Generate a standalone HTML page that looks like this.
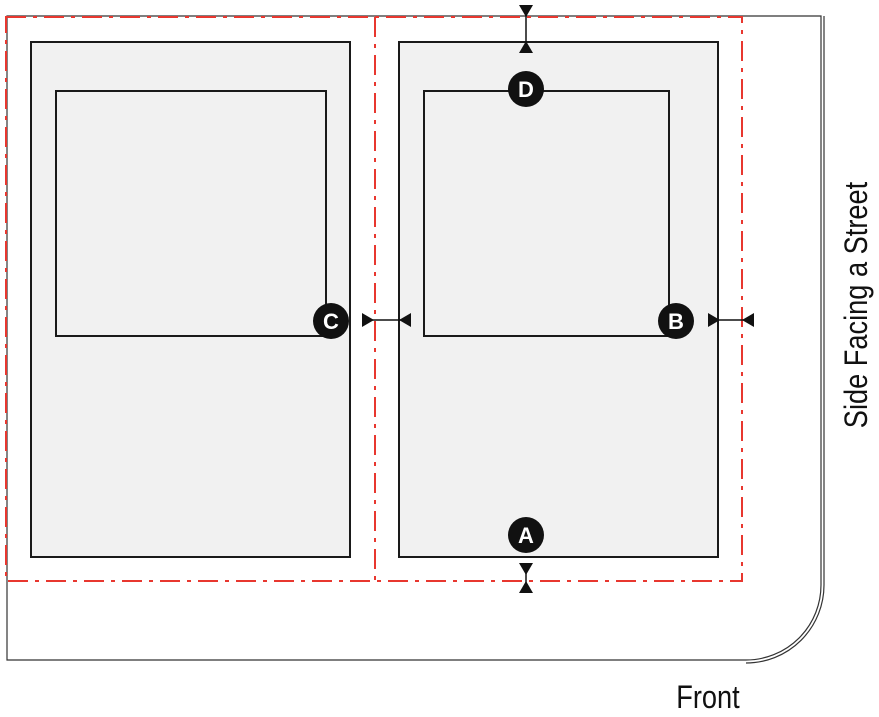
<!DOCTYPE html>
<html><head><meta charset="utf-8"><style>
html,body{margin:0;padding:0;background:#fff;}
svg{display:block;}
</style></head><body>
<svg width="879" height="717" viewBox="0 0 879 717" xmlns="http://www.w3.org/2000/svg">
<!-- lot outline -->
<path d="M7,16 L821,16 L821,585 A75,75 0 0 1 746,660 L7,660 Z" fill="none" stroke="#333" stroke-width="1.2"/>
<path d="M824,16 L824,585 A78,78 0 0 1 746,663" fill="none" stroke="#333" stroke-width="1.2"/>
<!-- parcels -->
<rect x="31" y="42" width="319" height="515" fill="#f1f1f1" stroke="#1a1a1a" stroke-width="2"/>
<rect x="399" y="42" width="319" height="515" fill="#f1f1f1" stroke="#1a1a1a" stroke-width="2"/>
<rect x="56" y="91" width="270" height="245" fill="none" stroke="#1a1a1a" stroke-width="2"/>
<rect x="424" y="91" width="245" height="245" fill="none" stroke="#1a1a1a" stroke-width="2"/>
<!-- dashed red setbacks -->
<g fill="none" stroke="#e8372f" stroke-width="2" stroke-dasharray="20,7,4,7">
<rect x="6" y="17" width="736" height="564"/>
<line x1="375" y1="17" x2="375" y2="581"/>
</g>
<!-- dimension markers -->
<g fill="#111" stroke="#111" stroke-width="1.5">
<line x1="526" y1="5" x2="526" y2="53"/>
<polygon points="519,5 533,5 526,17" stroke="none"/>
<polygon points="519,53 533,53 526,41" stroke="none"/>
<line x1="526" y1="563" x2="526" y2="593"/>
<polygon points="519,563 533,563 526,575" stroke="none"/>
<polygon points="519,593 533,593 526,581" stroke="none"/>
<line x1="362" y1="320" x2="411" y2="320"/>
<polygon points="362,313 362,327 374,320" stroke="none"/>
<polygon points="411,313 411,327 399,320" stroke="none"/>
<line x1="708" y1="320" x2="754" y2="320"/>
<polygon points="708,313 708,327 720,320" stroke="none"/>
<polygon points="754,313 754,327 742,320" stroke="none"/>
</g>
<!-- labels -->
<g font-family="Liberation Sans, sans-serif" font-weight="bold" font-size="22" fill="#fff" text-anchor="middle">
<circle cx="331" cy="321" r="18" fill="#111"/><text x="331" y="329">C</text>
<circle cx="676" cy="321" r="18" fill="#111"/><text x="676" y="329">B</text>
<circle cx="526" cy="89" r="18" fill="#111"/><text x="526" y="97">D</text>
<circle cx="526" cy="535" r="18" fill="#111"/><text x="526" y="543">A</text>
</g>
<text x="0" y="0" transform="translate(867,305) rotate(-90) scale(0.85,1)" font-family="Liberation Sans, sans-serif" font-size="32" fill="#111" text-anchor="middle">Side Facing a Street</text>
<text x="0" y="0" transform="translate(708,708) scale(0.85,1)" font-family="Liberation Sans, sans-serif" font-size="32" fill="#111" text-anchor="middle">Front</text>
</svg>
</body></html>
